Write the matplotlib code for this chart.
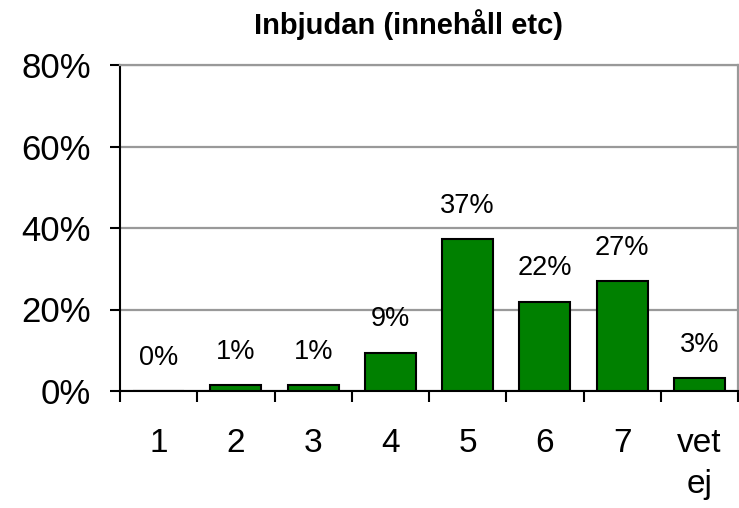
import matplotlib
matplotlib.use('Agg')
import matplotlib.pyplot as plt
from matplotlib.ticker import FuncFormatter

# answer shares (percent) per rating
categories = ['1', '2', '3', '4', '5', '6', '7', 'vet\nej']
values = [0, 1.4, 1.4, 9.4, 37.2, 21.9, 27.0, 3.2]
title = 'Inbjudan (innehåll etc)'

plt.rcParams['font.family'] = ['Liberation Sans', 'DejaVu Sans']

fig = plt.figure(figsize=(7.39, 5.08), dpi=100)
ax = fig.add_axes([120 / 739, 117 / 508, 618 / 739, 326 / 508])

x = list(range(len(categories)))
ax.bar(x, values, width=0.66, color='#008000', edgecolor='black', linewidth=1.5, zorder=3)

for xi, v in zip(x, values):
    ax.annotate(f'{round(v)}%', (xi, v), xytext=(0, 24), textcoords='offset points',
                ha='center', va='center', fontsize=19.5)

ax.set_xlim(-0.5, len(categories) - 0.5)
ax.set_ylim(0, 80)
ax.set_yticks([0, 20, 40, 60, 80])
ax.yaxis.set_major_formatter(FuncFormatter(lambda v, p: f'{v:.0f}%'))
ax.grid(axis='y', color='#999999', linewidth=1.6, zorder=0)

# category separators as ticks, labels at centres
ax.set_xticks([i - 0.5 for i in range(len(categories) + 1)])
ax.set_xticklabels([])
ax.set_xticks(x, minor=True)
ax.set_xticklabels(categories, minor=True, fontsize=24, linespacing=1.4)
ax.tick_params(axis='x', which='major', direction='out', length=8, width=1.5)
ax.tick_params(axis='x', which='minor', length=0, pad=27)
ax.tick_params(axis='y', direction='out', length=7, width=1.5, pad=14, labelsize=25)

for s in ['left', 'bottom']:
    ax.spines[s].set_color('black')
    ax.spines[s].set_linewidth(1.5)
for s in ['top', 'right']:
    ax.spines[s].set_color('#999999')
    ax.spines[s].set_linewidth(1.6)

fig.text(409 / 739, 1 - 25 / 508, title, ha='center', va='center', fontsize=21,
         fontweight='bold', family=['Liberation Sans Narrow', 'Liberation Sans', 'DejaVu Sans'])

fig.savefig('out.png', dpi=100)
